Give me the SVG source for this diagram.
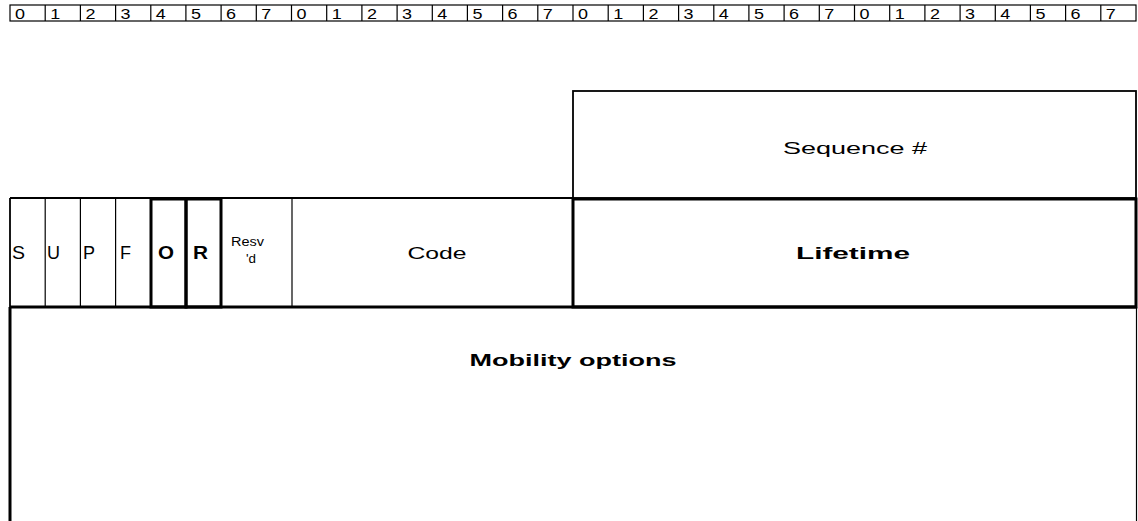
<svg xmlns="http://www.w3.org/2000/svg" width="1138" height="521" viewBox="0 0 1138 521">
<style>
.bg{fill:#fff}
.thin{fill:none;stroke:#000;stroke-width:1.2}
.med{fill:none;stroke:#000;stroke-width:1.8}
.thick{fill:none;stroke:#000;stroke-width:3}
text{font-family:"Liberation Sans",Arial,sans-serif;fill:#000;text-anchor:middle;dominant-baseline:central}
.bit{font-size:14px}
.bit text{text-anchor:start}
.lbl{font-size:17px}
.flag{font-size:18px;text-anchor:start}
.b{font-weight:bold}
.sm{font-size:12px;text-anchor:start}
</style>
<rect class="bg" x="0" y="0" width="1138" height="521"/>
<g id="bit-ruler">
<rect class="thin" x="10" y="5" width="1126" height="16"/>
<path class="thin" d="M45.2 5V21M80.4 5V21M115.6 5V21M150.8 5V21M185.9 5V21M221.1 5V21M256.3 5V21M291.5 5V21M326.7 5V21M361.9 5V21M397.1 5V21M432.3 5V21M467.4 5V21M502.6 5V21M537.8 5V21M573 5V21M608.2 5V21M643.4 5V21M678.6 5V21M713.8 5V21M748.9 5V21M784.1 5V21M819.3 5V21M854.5 5V21M889.7 5V21M924.9 5V21M960.1 5V21M995.3 5V21M1030.4 5V21M1065.6 5V21M1100.8 5V21"/>
<g class="bit">
<text x="15" y="13.5" textLength="10" lengthAdjust="spacingAndGlyphs">0</text><text x="50.2" y="13.5" textLength="10" lengthAdjust="spacingAndGlyphs">1</text><text x="85.4" y="13.5" textLength="10" lengthAdjust="spacingAndGlyphs">2</text><text x="120.6" y="13.5" textLength="10" lengthAdjust="spacingAndGlyphs">3</text><text x="155.8" y="13.5" textLength="10" lengthAdjust="spacingAndGlyphs">4</text><text x="190.9" y="13.5" textLength="10" lengthAdjust="spacingAndGlyphs">5</text><text x="226.1" y="13.5" textLength="10" lengthAdjust="spacingAndGlyphs">6</text><text x="261.3" y="13.5" textLength="10" lengthAdjust="spacingAndGlyphs">7</text>
<text x="296.5" y="13.5" textLength="10" lengthAdjust="spacingAndGlyphs">0</text><text x="331.7" y="13.5" textLength="10" lengthAdjust="spacingAndGlyphs">1</text><text x="366.9" y="13.5" textLength="10" lengthAdjust="spacingAndGlyphs">2</text><text x="402.1" y="13.5" textLength="10" lengthAdjust="spacingAndGlyphs">3</text><text x="437.3" y="13.5" textLength="10" lengthAdjust="spacingAndGlyphs">4</text><text x="472.4" y="13.5" textLength="10" lengthAdjust="spacingAndGlyphs">5</text><text x="507.6" y="13.5" textLength="10" lengthAdjust="spacingAndGlyphs">6</text><text x="542.8" y="13.5" textLength="10" lengthAdjust="spacingAndGlyphs">7</text>
<text x="578" y="13.5" textLength="10" lengthAdjust="spacingAndGlyphs">0</text><text x="613.2" y="13.5" textLength="10" lengthAdjust="spacingAndGlyphs">1</text><text x="648.4" y="13.5" textLength="10" lengthAdjust="spacingAndGlyphs">2</text><text x="683.6" y="13.5" textLength="10" lengthAdjust="spacingAndGlyphs">3</text><text x="718.8" y="13.5" textLength="10" lengthAdjust="spacingAndGlyphs">4</text><text x="753.9" y="13.5" textLength="10" lengthAdjust="spacingAndGlyphs">5</text><text x="789.1" y="13.5" textLength="10" lengthAdjust="spacingAndGlyphs">6</text><text x="824.3" y="13.5" textLength="10" lengthAdjust="spacingAndGlyphs">7</text>
<text x="859.5" y="13.5" textLength="10" lengthAdjust="spacingAndGlyphs">0</text><text x="894.7" y="13.5" textLength="10" lengthAdjust="spacingAndGlyphs">1</text><text x="929.9" y="13.5" textLength="10" lengthAdjust="spacingAndGlyphs">2</text><text x="965.1" y="13.5" textLength="10" lengthAdjust="spacingAndGlyphs">3</text><text x="1000.3" y="13.5" textLength="10" lengthAdjust="spacingAndGlyphs">4</text><text x="1035.4" y="13.5" textLength="10" lengthAdjust="spacingAndGlyphs">5</text><text x="1070.6" y="13.5" textLength="10" lengthAdjust="spacingAndGlyphs">6</text><text x="1105.8" y="13.5" textLength="10" lengthAdjust="spacingAndGlyphs">7</text>
</g>
</g>
<g id="sequence">
<rect class="med" x="573" y="91" width="563" height="107"/>
<text class="lbl" x="855" y="148" textLength="144" lengthAdjust="spacingAndGlyphs">Sequence #</text>
</g>
<g id="row2-frame">
<path class="med" d="M10 198H573M10 198V307"/>
</g>
<g id="flag-S"><path class="thin" d="M45.2 198V307"/><text class="flag" x="12" y="253" textLength="13" lengthAdjust="spacingAndGlyphs">S</text></g>
<g id="flag-U"><path class="thin" d="M80.4 198V307"/><text class="flag" x="47" y="253" textLength="13" lengthAdjust="spacingAndGlyphs">U</text></g>
<g id="flag-P"><path class="thin" d="M115.6 198V307"/><text class="flag" x="83" y="253" textLength="12" lengthAdjust="spacingAndGlyphs">P</text></g>
<g id="flag-F"><text class="flag" x="120" y="253" textLength="11" lengthAdjust="spacingAndGlyphs">F</text></g>
<g id="flag-O"><rect class="thick" x="151" y="199" width="35" height="108"/><text class="flag b" x="158" y="253" textLength="16" lengthAdjust="spacingAndGlyphs">O</text></g>
<g id="flag-R"><rect class="thick" x="186" y="199" width="35" height="108"/><text class="flag b" x="193" y="253" textLength="15" lengthAdjust="spacingAndGlyphs">R</text></g>
<g id="resvd"><text class="sm" x="231" y="242" textLength="33" lengthAdjust="spacingAndGlyphs">Resv</text><text class="sm" x="246" y="259" textLength="10" lengthAdjust="spacingAndGlyphs">'d</text></g>
<g id="code"><path class="thin" d="M292 198V307"/><text class="lbl" x="437" y="253" textLength="59" lengthAdjust="spacingAndGlyphs">Code</text></g>
<g id="lifetime"><rect class="thick" x="573" y="199" width="563" height="108"/><text class="lbl b" x="853" y="253" textLength="114" lengthAdjust="spacingAndGlyphs">Lifetime</text></g>
<g id="mobility">
<path class="thick" d="M10 307H1136M10 307V521"/>
<path class="thin" d="M1136.5 307V521"/>
<text class="lbl b" x="573" y="360" textLength="207" lengthAdjust="spacingAndGlyphs">Mobility options</text>
</g>
</svg>
